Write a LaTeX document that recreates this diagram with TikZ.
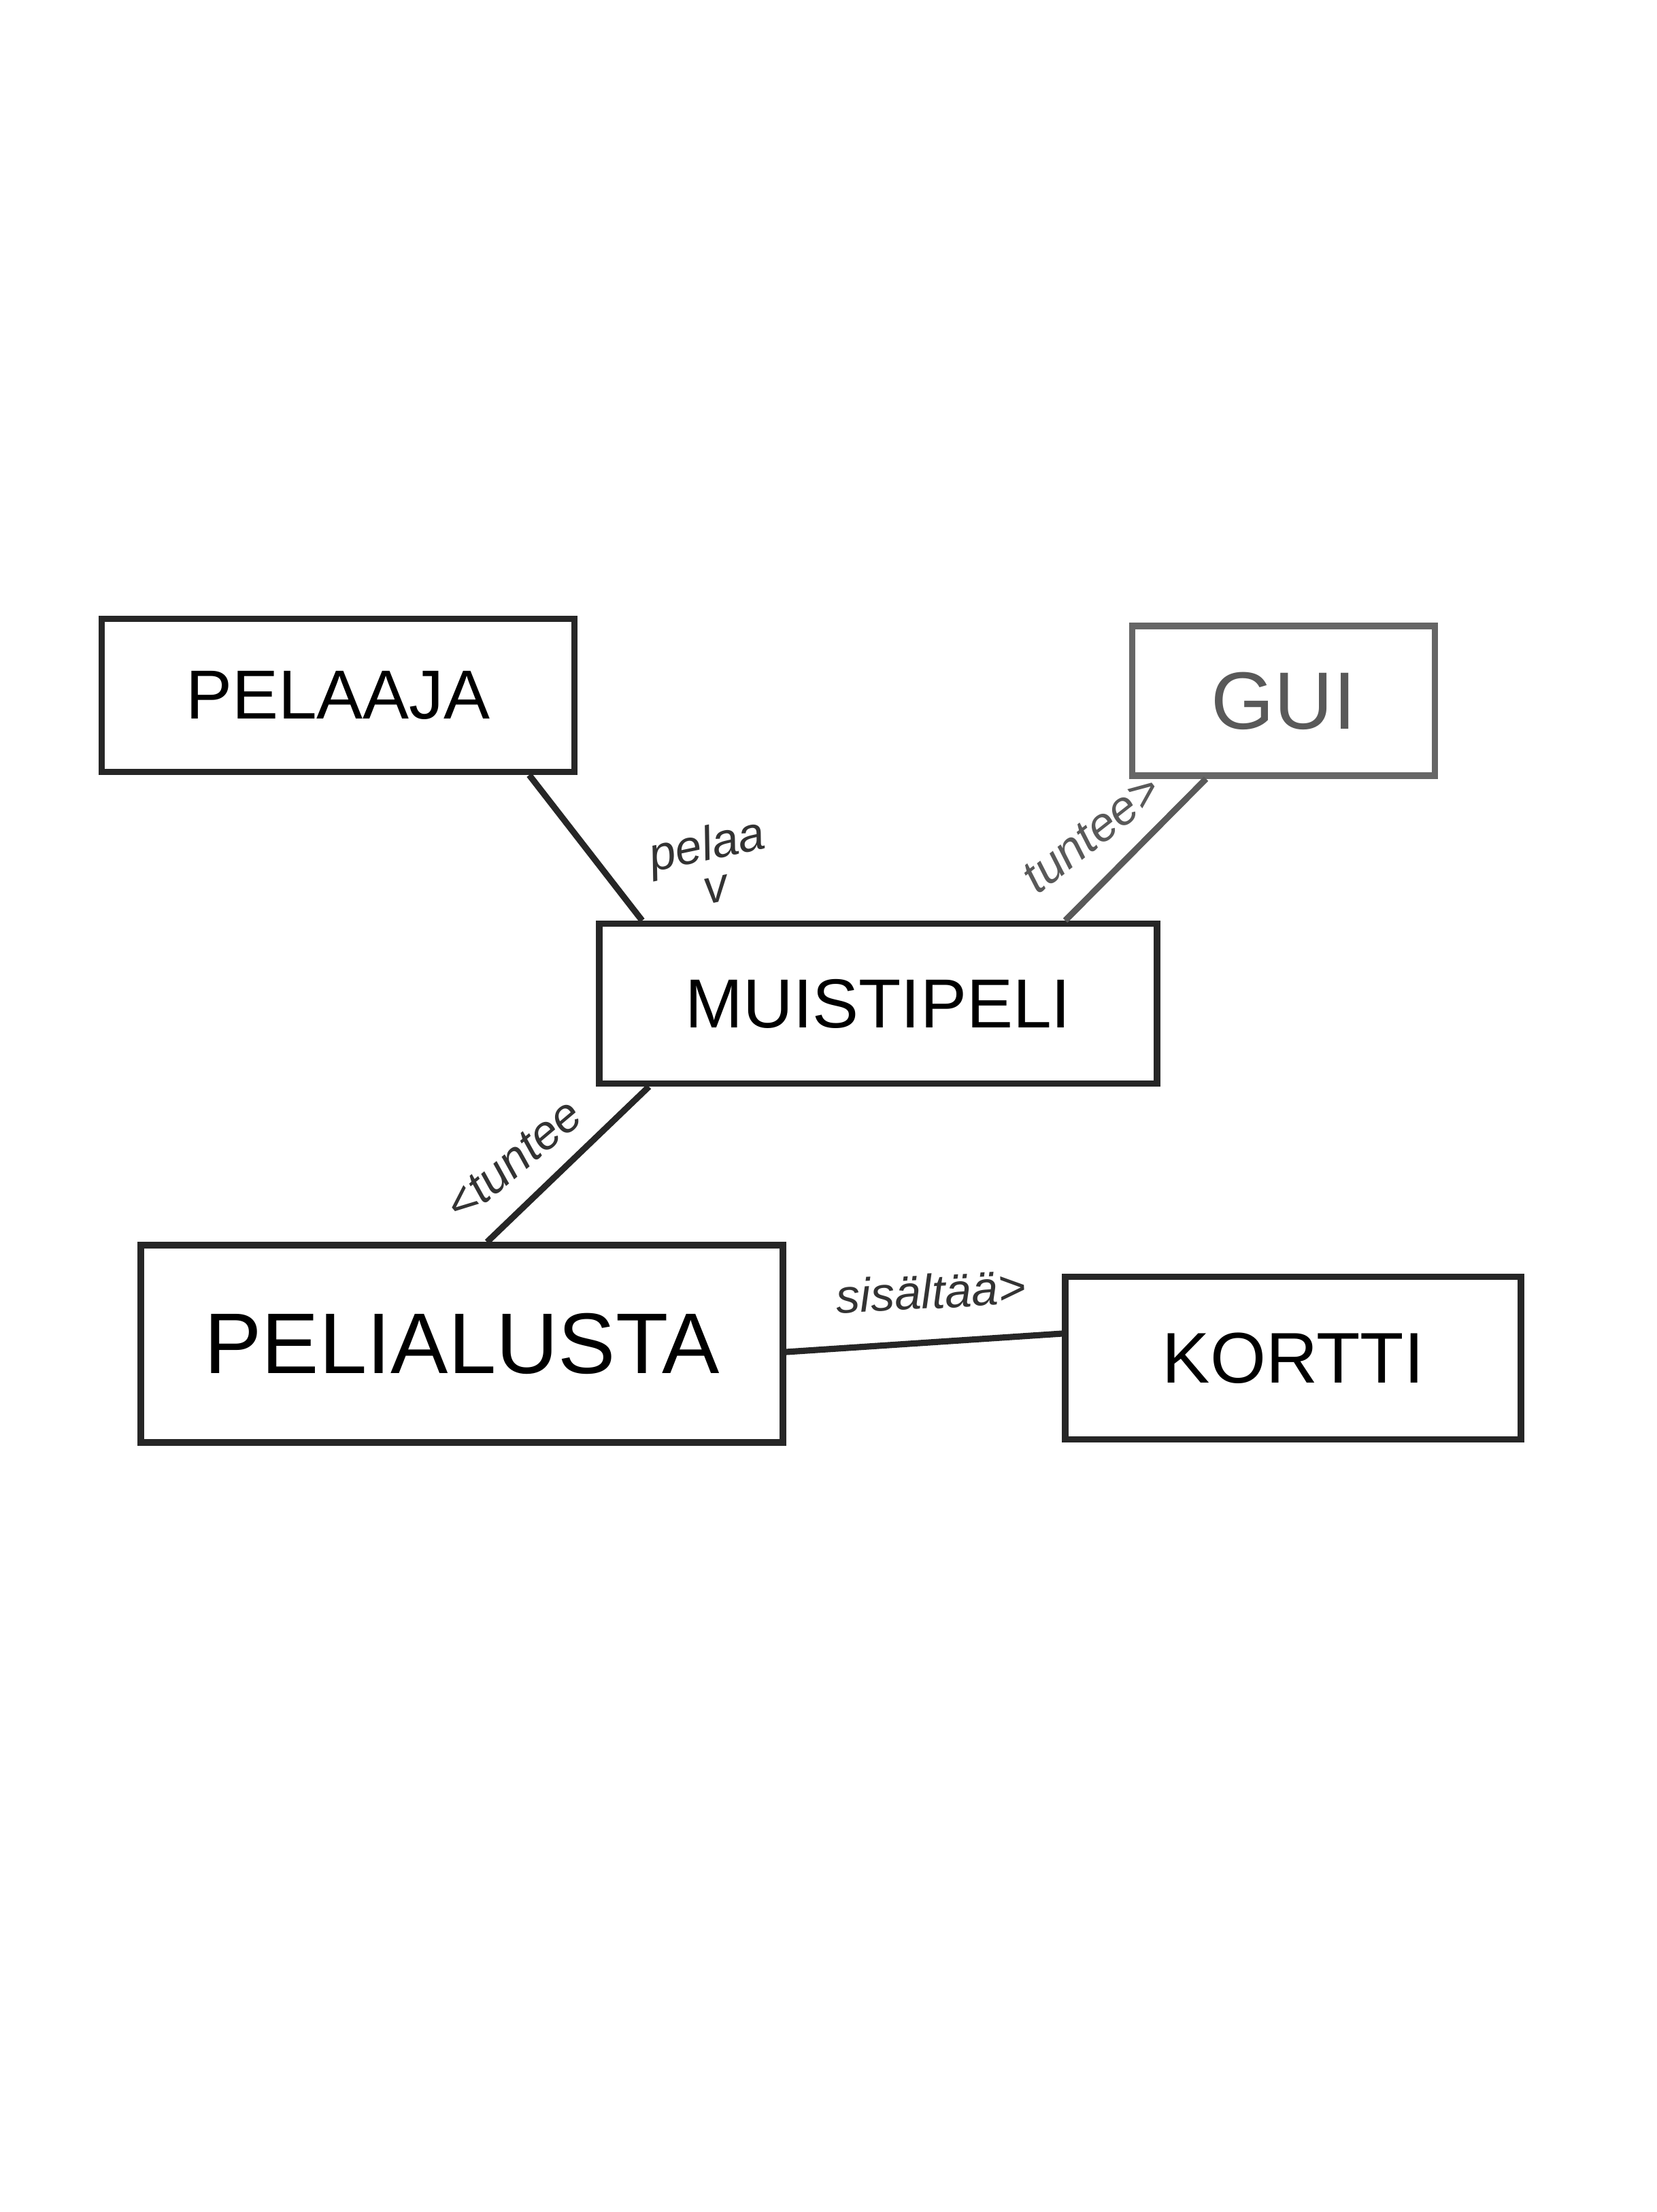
\documentclass[tikz,border=0pt]{standalone}
\usepackage{fontspec}
\setmainfont{Liberation Sans}
\usetikzlibrary{calc}
\tikzset{
  luokka/.style  = {draw=black!85, line width=2.6pt, inner sep=0pt},
  yhteys/.style  = {draw=black!85, line width=2.6pt},
  nimi/.style    = {font=\fontsize{20}{22}\selectfont\itshape, text=black!80, inner sep=1pt}
}
\begin{document}
\begin{tikzpicture}
\useasboundingbox[fill=white] (0,0) rectangle (24.35,-32.51);
\node[luokka, minimum width=6.95cm, minimum height=2.25cm,
      font=\fontsize{29}{32}\selectfont] (pelaaja) at (4.97,-10.22) {PELAAJA};
\node[luokka, draw=black!60, minimum width=4.45cm, minimum height=2.2cm, text=black!65,
      font=\fontsize{34}{38}\selectfont] (gui) at (18.87,-10.30) {GUI};
\node[luokka, minimum width=8.2cm, minimum height=2.35cm,
      font=\fontsize{29}{32}\selectfont] (muistipeli) at (12.91,-14.75) {MUISTIPELI};
\node[luokka, minimum width=9.44cm, minimum height=2.9cm,
      font=\fontsize{36}{40}\selectfont] (pelialusta) at (6.79,-19.75) {PELIALUSTA};
\node[luokka, minimum width=6.7cm, minimum height=2.39cm,
      font=\fontsize{30}{34}\selectfont] (kortti) at (19.01,-19.96) {KORTTI};
%
\draw[yhteys] ([xshift=2.81cm]pelaaja.south) -- ([xshift=-3.47cm]muistipeli.north);
\draw[yhteys, draw=black!65] ([xshift=-1.14cm]gui.south) -- ([xshift=2.75cm]muistipeli.north);
\draw[yhteys] ([xshift=-3.37cm]muistipeli.south) -- ([xshift=0.37cm]pelialusta.north);
\draw[yhteys] ([yshift=-0.12cm]pelialusta.east) -- ([yshift=0.36cm]kortti.west);
%
\node[nimi, align=center, rotate=12] (pelaa) at (10.45,-12.70) {pelaa\\[-4pt]v};
\node[nimi, rotate=38, text=black!65] (tunteeGui) at (16.05,-12.25) {tuntee>};
\node[nimi, rotate=40] (tunteeAlusta) at (7.55,-17.05) {<tuntee};
\node[nimi, rotate=3] (sisaltaa) at (13.69,-18.98) {sisältää>};
\end{tikzpicture}
\end{document}
